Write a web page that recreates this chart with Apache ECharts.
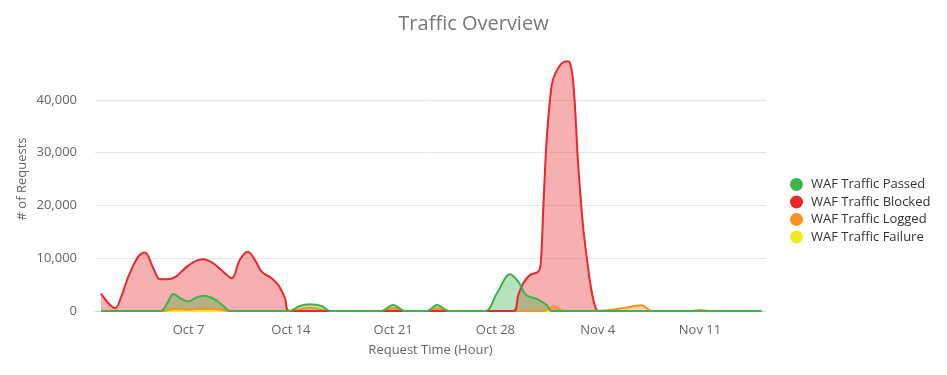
<!DOCTYPE html>
<html>
<head>
<meta charset="utf-8">
<script src="https://cdn.jsdelivr.net/npm/echarts@6/dist/echarts.min.js"></script>
<style>html,body{margin:0;padding:0;background:#fff}#c{width:947px;height:375px}</style>
</head>
<body>
<div id="c"></div>
<script>
// x values are days since Oct 1 00:00
const seriesNames = ['WAF Traffic Passed', 'WAF Traffic Blocked', 'WAF Traffic Logged', 'WAF Traffic Failure'];
const tickDays = [6, 13, 20, 27, 34, 41];
const tickLabels = ['Oct 7', 'Oct 14', 'Oct 21', 'Oct 28', 'Nov 4', 'Nov 11'];
const yTicks = [0, 10000, 20000, 30000, 40000];

const passedDay = [0, 4.1, 4.55, 4.95, 5.45, 5.98, 6.5, 7.0, 7.5, 8.0, 8.4, 8.8, 12.9, 13.6, 14.3, 15.1, 15.7, 19.2, 20.0, 20.8, 22.3, 23.0, 23.8, 26.3, 27.1, 28.0, 28.56, 29.1, 29.9, 30.5, 30.85, 45.2];
const passedVal = [0, 0, 1600, 3200, 2400, 1800, 2500, 2900, 2600, 1800, 900, 0, 0, 950, 1270, 950, 0, 0, 1150, 0, 0, 1150, 0, 0, 3350, 6950, 5550, 3030, 2200, 1140, 0, 0];

const blockedDay = [0, 0.5, 0.96, 1.4, 1.87, 2.55, 3.0, 3.58, 4.04, 4.5, 5.07, 5.87, 6.5, 7.0, 7.7, 8.37, 8.95, 9.5, 10.04, 10.54, 11.0, 11.68, 12.14, 12.6, 12.9, 28.2, 28.56, 28.9, 29.36, 29.93, 30.1, 30.3, 30.52, 30.85, 31.1, 31.5, 31.9, 32.1, 32.3, 32.45, 32.67, 33.0, 33.4, 33.65, 33.9, 34.1, 45.2];
const blockedVal = [3300, 1500, 500, 2800, 6500, 10300, 11100, 8100, 6000, 6000, 6400, 8400, 9500, 9800, 9000, 7450, 6200, 9650, 11200, 9650, 7450, 6200, 4900, 2400, 0, 0, 3000, 5250, 6800, 7450, 9000, 21000, 33000, 42800, 45000, 46800, 47300, 47000, 44000, 38500, 27500, 16000, 7000, 2800, 300, 0, 0];

const loggedDay = [0, 4.2, 5.0, 6.0, 7.0, 8.0, 8.8, 12.9, 14.3, 15.7, 19.2, 20.0, 20.8, 22.3, 23.0, 23.8, 30.3, 31.0, 31.7, 33.9, 35.0, 35.8, 36.5, 37.0, 37.7, 40.3, 41.0, 41.7, 45.2];
const loggedVal = [0, 0, 400, 300, 500, 350, 0, 0, 600, 0, 0, 500, 0, 0, 500, 0, 0, 900, 0, 0, 250, 550, 950, 1100, 0, 0, 200, 0, 0];

const failureDay = [0, 45.2];
const failureVal = [0, 0];

const colors = ['#3cb44a', '#e8282b', '#f7931e', '#f2ea1c'];
const pairs = (d, v) => d.map((x, i) => [x, v[i]]);
const dataSets = [pairs(passedDay, passedVal), pairs(blockedDay, blockedVal), pairs(loggedDay, loggedVal), pairs(failureDay, failureVal)];

function mk(i) {
  return {
    name: seriesNames[i], type: 'line', smooth: 0.35, showSymbol: false, symbol: 'none',
    data: dataSets[i], color: colors[i],
    lineStyle: { width: 2, color: colors[i] },
    areaStyle: { color: colors[i], opacity: 0.37 },
    emphasis: { disabled: true }
  };
}

const chart = echarts.init(document.getElementById('c'), null, { renderer: 'canvas' });
chart.setOption({
  animation: false,
  textStyle: { fontFamily: 'Open Sans' },
  title: {
    text: 'Traffic Overview', left: 'center', top: 9,
    textStyle: { fontFamily: 'Open Sans', fontSize: 20, fontWeight: 'normal', color: '#777' }
  },
  legend: {
    orient: 'vertical', left: 785, top: 173, itemWidth: 13, itemHeight: 13, itemGap: 4.5,
    icon: 'circle', data: seriesNames,
    textStyle: { fontFamily: 'Open Sans', fontSize: 13, color: '#333', padding: [0, 0, 0, 3] }
  },
  grid: { left: 95, right: 181, top: 47, bottom: 64 },
  xAxis: {
    type: 'value', min: -0.41, max: 45.52,
    name: 'Request Time (Hour)', nameLocation: 'middle', nameGap: 33, nameMoveOverlap: false,
    nameTextStyle: { fontFamily: 'Open Sans', fontSize: 13, color: '#666' },
    axisLine: { show: true, lineStyle: { color: '#ccd6eb', width: 1 } },
    axisTick: { show: false },
    splitLine: { show: false },
    axisLabel: {
      customValues: tickDays, margin: 13, fontFamily: 'Open Sans', fontSize: 13, color: '#666',
      formatter: v => { const k = tickDays.indexOf(v); return k >= 0 ? tickLabels[k] : ''; }
    }
  },
  yAxis: {
    type: 'value', min: 0, max: 50000, interval: 10000,
    name: '# of Requests', nameLocation: 'middle', nameGap: 66, nameRotate: 90, nameMoveOverlap: false,
    nameTextStyle: { fontFamily: 'Open Sans', fontSize: 13, color: '#666' },
    axisLine: { show: false }, axisTick: { show: false },
    axisLabel: {
      margin: 18, fontFamily: 'Open Sans', fontSize: 13, color: '#666', showMaxLabel: false,
      formatter: v => (yTicks.indexOf(v) >= 0 ? v.toLocaleString('en-US') : '')
    },
    splitLine: { show: true, showMaxLine: false, lineStyle: { color: '#e6e6e6', width: 1 } }
  },
  series: [mk(3), mk(2), mk(1), mk(0)]
});
</script>
</body>
</html>
